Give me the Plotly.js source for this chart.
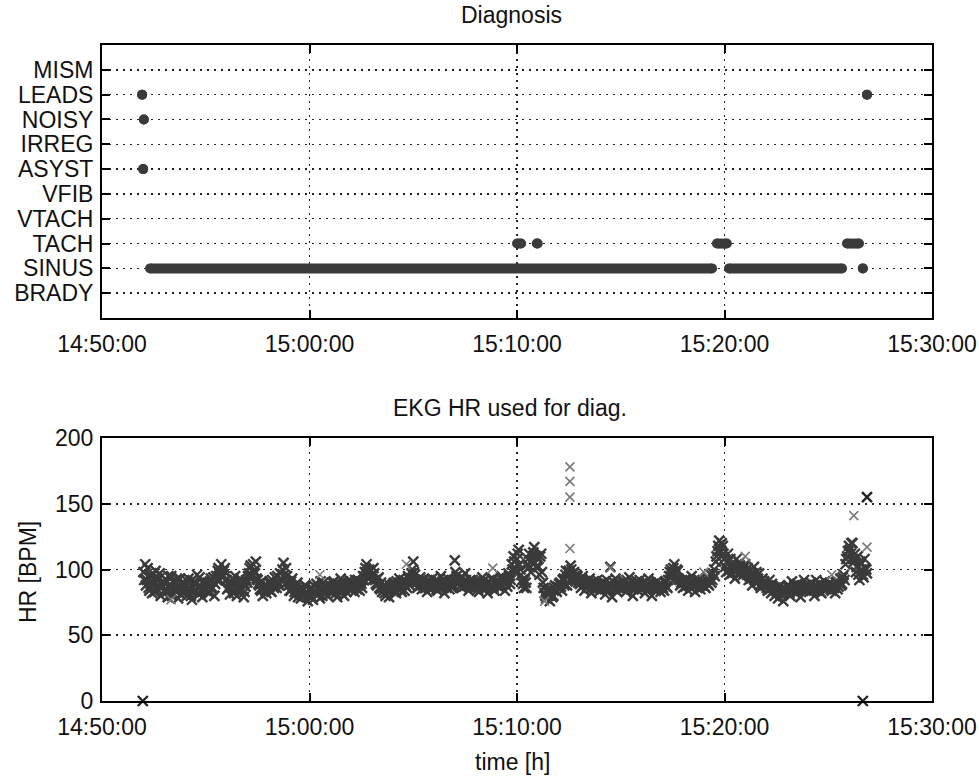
<!DOCTYPE html>
<html><head><meta charset="utf-8">
<script src="https://cdn.plot.ly/plotly-3.0.1.min.js"></script>
<style>html,body{margin:0;padding:0;background:#fff}#chart{width:979px;height:776px}</style>
</head><body><div id="chart"></div><script>
// ---- data ----
const day = '2024-01-01 ';
const diagCategories = ['BRADY','SINUS','TACH','VTACH','VFIB','ASYST','IRREG','NOISY','LEADS','MISM'];
// diagnosis episodes (category, start, end)
const epCat   = ['LEADS','NOISY','ASYST','SINUS','SINUS','SINUS','TACH','TACH','TACH','TACH','LEADS'];
const epStart = ['14:51:56','14:52:01','14:51:59','14:52:19','15:20:13','15:26:40','15:10:00','15:10:57','15:19:38','15:25:54','15:26:52'];
const epEnd   = ['14:51:56','14:52:01','14:51:59','15:19:24','15:25:40','15:26:40','15:10:12','15:11:00','15:20:07','15:26:29','15:26:52'];

// heart rate readings, one row per minute; set A every 5 s from :00, set B every 5 s from :02
const hrMinutes = ['14:52','14:53','14:54','14:55','14:56','14:57','14:58','14:59','15:00','15:01','15:02','15:03',
  '15:04','15:05','15:06','15:07','15:08','15:09','15:10','15:11','15:12','15:13','15:14','15:15','15:16','15:17',
  '15:18','15:19','15:20','15:21','15:22','15:23','15:24','15:25','15:26'];
const hrRowsA = [
  [98,104,92,86,95,82,90,99,85,93,80,88],
  [84,92,79,88,95,81,86,90,78,93,85,82],
  [88,80,93,84,77,90,85,96,81,87,79,91],
  [84,90,82,93,86,80,95,99,92,104,96,101],
  [92,86,81,90,84,95,80,88,93,85,79,87],
  [90,97,103,95,99,106,92,88,84,80,86,82],
  [85,91,83,88,94,86,90,97,92,105,89,95],
  [88,84,93,80,86,90,82,78,85,80,87,76],
  [80,86,77,84,89,81,78,85,90,82,87,84],
  [88,82,91,85,79,87,93,84,80,89,86,92],
  [85,90,83,88,92,84,89,95,98,104,93,99],
  [96,101,92,88,94,85,83,88,80,86,79,84],
  [86,90,82,88,93,85,89,84,91,95,88,97],
  [106,96,90,87,94,85,92,88,83,90,86,93],
  [87,92,84,90,95,86,82,89,93,85,91,88],
  [107,95,89,93,86,91,97,88,84,92,87,90],
  [86,91,83,89,94,85,88,82,90,87,93,84],
  [88,92,86,95,90,84,93,97,89,104,110,100],
  [108,115,100,92,86,90,104,112,98,110,117,102],
  [108,96,112,90,82,78,84,76,85,80,88,83],
  [86,90,84,93,96,88,99,103,94,98,91,95],
  [92,86,95,84,90,88,93,82,87,91,85,89],
  [84,90,86,81,92,85,102,79,87,93,83,89],
  [88,85,91,83,89,94,86,80,90,87,84,92],
  [85,90,82,88,93,86,80,89,84,91,87,83],
  [88,84,91,86,95,100,98,104,94,99,92,90],
  [86,92,88,84,90,95,87,83,89,92,85,88],
  [90,86,94,88,96,92,100,106,114,122,110,118],
  [108,98,112,96,104,100,93,108,97,103,95,101],
  [104,96,92,99,88,102,94,90,97,86,93,91],
  [89,84,92,82,87,80,85,78,88,83,76,86],
  [84,88,80,91,85,82,89,86,79,87,92,84],
  [88,83,90,85,80,92,86,89,82,87,91,85],
  [86,90,84,88,82,91,87,93,89,96,104,110],
  [118,112,120,106,98,110,92,104,96,108,100]
];
const hrRowsB = [
  [92,88,101,84,96,90,83,94,88,97,86,91],
  [89,83,95,86,80,90,84,93,87,81,90,86],
  [83,91,86,80,92,83,89,82,94,84,90,86],
  [88,83,91,85,94,89,92,101,97,94,99,92],
  [85,90,87,93,82,89,91,84,86,90,83,92],
  [95,101,94,104,97,93,89,85,91,87,84,88],
  [90,84,92,86,89,95,88,93,100,96,101,91],
  [84,91,87,83,89,79,86,84,81,88,83,80],
  [85,79,88,82,86,84,91,80,85,88,80,86],
  [83,90,86,82,89,84,88,91,86,83,90,87],
  [90,86,92,85,88,91,86,92,101,96,100,95],
  [92,97,89,93,86,90,86,82,87,83,88,86],
  [89,84,91,86,90,83,92,88,86,93,91,100],
  [98,92,86,91,88,92,86,90,87,92,89,86],
  [90,85,91,87,88,92,89,86,90,88,86,92],
  [98,91,92,88,94,87,92,90,87,89,92,86],
  [89,85,90,86,91,88,86,91,87,92,86,90],
  [91,87,93,88,92,90,87,95,92,100,106,98],
  [112,104,96,89,92,86,108,102,106,113,105,110],
  [102,110,98,86,80,84,80,83,79,86,84,87],
  [89,87,92,88,99,94,96,100,97,92,96,90],
  [89,93,88,91,86,92,89,86,91,88,92,86],
  [88,85,90,87,84,89,88,91,85,89,86,87],
  [86,90,87,92,86,88,91,85,87,91,89,86],
  [89,86,91,85,88,90,86,85,90,86,89,86],
  [86,90,87,92,98,95,101,96,100,93,88,92],
  [90,87,92,89,86,91,90,88,93,87,90,92],
  [87,92,89,93,90,97,95,110,118,115,120,112],
  [102,106,99,108,97,103,98,102,105,98,100,97],
  [99,101,95,93,97,92,98,93,88,92,89,88],
  [86,88,85,89,84,86,82,87,81,85,84,83],
  [87,82,86,84,88,86,83,85,88,84,86,88],
  [85,88,84,87,88,84,89,83,88,85,86,88],
  [89,85,88,86,90,85,90,88,94,92,108,114],
  [115,120,108,112,102,96,106,100,94,101,97]
];
// lighter-grey readings
const hrAltTime = ['15:12:33','15:12:33','15:12:33','15:12:33','15:26:14','15:26:52','14:53:20','15:00:30','15:04:40','15:08:50','15:11:20','15:14:30','15:19:00','15:21:00','15:25:10'];
const hrAltVal  = [178,167,155,116,141,117,77,96,104,101,76,101,98,110,96];
// isolated dark readings
const hrOutTime = ['15:26:52','14:51:58','15:26:40'];
const hrOutVal  = [155,0,0];

// ---- build traces ----
const dark = '#3a3a3a';
const traces = [];
diagCategories.forEach((cat, ci) => {
  const xs = [], ys = [];
  epCat.forEach((c, i) => {
    if (c !== cat) return;
    xs.push(day + epStart[i], day + epEnd[i], null);
    ys.push(ci + 1, ci + 1, null);
  });
  if (!xs.length) return;
  traces.push({x: xs, y: ys, xaxis: 'x', yaxis: 'y', type: 'scatter', mode: 'lines+markers',
    line: {color: dark, width: 10}, marker: {symbol: 'circle', size: 10, color: dark},
    connectgaps: false, hoverinfo: 'skip', showlegend: false});
});

function hrSeries(rows, offset) {
  const xs = [], ys = [];
  hrMinutes.forEach((m, r) => {
    rows[r].forEach((v, i) => {
      xs.push(day + m + ':' + String(i * 5 + offset).padStart(2, '0'));
      ys.push(v);
    });
  });
  return {x: xs, y: ys, xaxis: 'x2', yaxis: 'y2', type: 'scatter', mode: 'markers',
    marker: {symbol: 'x-thin-open', size: 10, color: dark, line: {width: 2.4, color: dark}},
    hoverinfo: 'skip', showlegend: false};
}
traces.push(hrSeries(hrRowsA, 0));
traces.push(hrSeries(hrRowsB, 2));
traces.push({x: hrAltTime.map(t => day + t), y: hrAltVal, xaxis: 'x2', yaxis: 'y2', type: 'scatter', mode: 'markers',
  marker: {symbol: 'x-thin-open', size: 9, color: '#7a7a7a', line: {width: 1.6, color: '#7a7a7a'}},
  hoverinfo: 'skip', showlegend: false});
traces.push({x: hrOutTime.map(t => day + t), y: hrOutVal, xaxis: 'x2', yaxis: 'y2', type: 'scatter', mode: 'markers',
  marker: {symbol: 'x-thin-open', size: 10, color: '#222', line: {width: 2.4, color: '#222'}},
  cliponaxis: false, hoverinfo: 'skip', showlegend: false});

// ---- layout ----
const fnt = {family: 'Liberation Sans, Arial, sans-serif', size: 23, color: '#111'};
const gridStyle = {showgrid: true, gridcolor: '#222', gridwidth: 1.5, griddash: '2px,5px'};
const axisBase = Object.assign({ticks: 'inside', ticklen: 8, tickwidth: 2, tickcolor: '#000',
  showline: true, linewidth: 2, linecolor: '#000', mirror: 'ticks', zeroline: false,
  tickfont: fnt, fixedrange: true}, gridStyle);
const xBase = Object.assign({}, axisBase, {type: 'date', range: [day + '14:50:00', day + '15:30:00'],
  tick0: day + '14:50:00', dtick: 600000, tickformat: '%H:%M:%S', ticklabelstandoff: 4});

const layout = {
  width: 979, height: 776,
  margin: {l: 102, r: 47, t: 45, b: 75},
  paper_bgcolor: '#fff', plot_bgcolor: '#fff',
  font: fnt,
  xaxis: Object.assign({}, xBase, {anchor: 'y', domain: [0, 1]}),
  yaxis: Object.assign({}, axisBase, {anchor: 'x', domain: [0.5838, 1], range: [0, 11], ticklabelstandoff: 2,
    tickmode: 'array', tickvals: diagCategories.map((c, i) => i + 1), ticktext: diagCategories}),
  xaxis2: Object.assign({}, xBase, {anchor: 'y2', domain: [0, 1]}),
  yaxis2: Object.assign({}, axisBase, {anchor: 'x2', domain: [0, 0.4009], range: [0, 200], dtick: 50, tick0: 0, ticklabelstandoff: 2}),
  annotations: [
    {text: 'Diagnosis', xref: 'paper', yref: 'paper', x: 0.4928, y: 1.0457, xanchor: 'center', yanchor: 'middle', showarrow: false, font: fnt},
    {text: 'EKG HR used for diag.', xref: 'paper', yref: 'paper', x: 0.4916, y: 0.4466, xanchor: 'center', yanchor: 'middle', showarrow: false, font: fnt},
    {text: 'time [h]', xref: 'paper', yref: 'paper', x: 0.4940, y: -0.093, xanchor: 'center', yanchor: 'middle', showarrow: false, font: fnt},
    {text: 'HR [BPM]', xref: 'paper', yref: 'paper', x: -0.0892, y: 0.1966, xanchor: 'center', yanchor: 'middle', textangle: -90, showarrow: false, font: fnt}
  ]
};
Plotly.newPlot('chart', traces, layout, {staticPlot: true, displayModeBar: false});
</script></body></html>
